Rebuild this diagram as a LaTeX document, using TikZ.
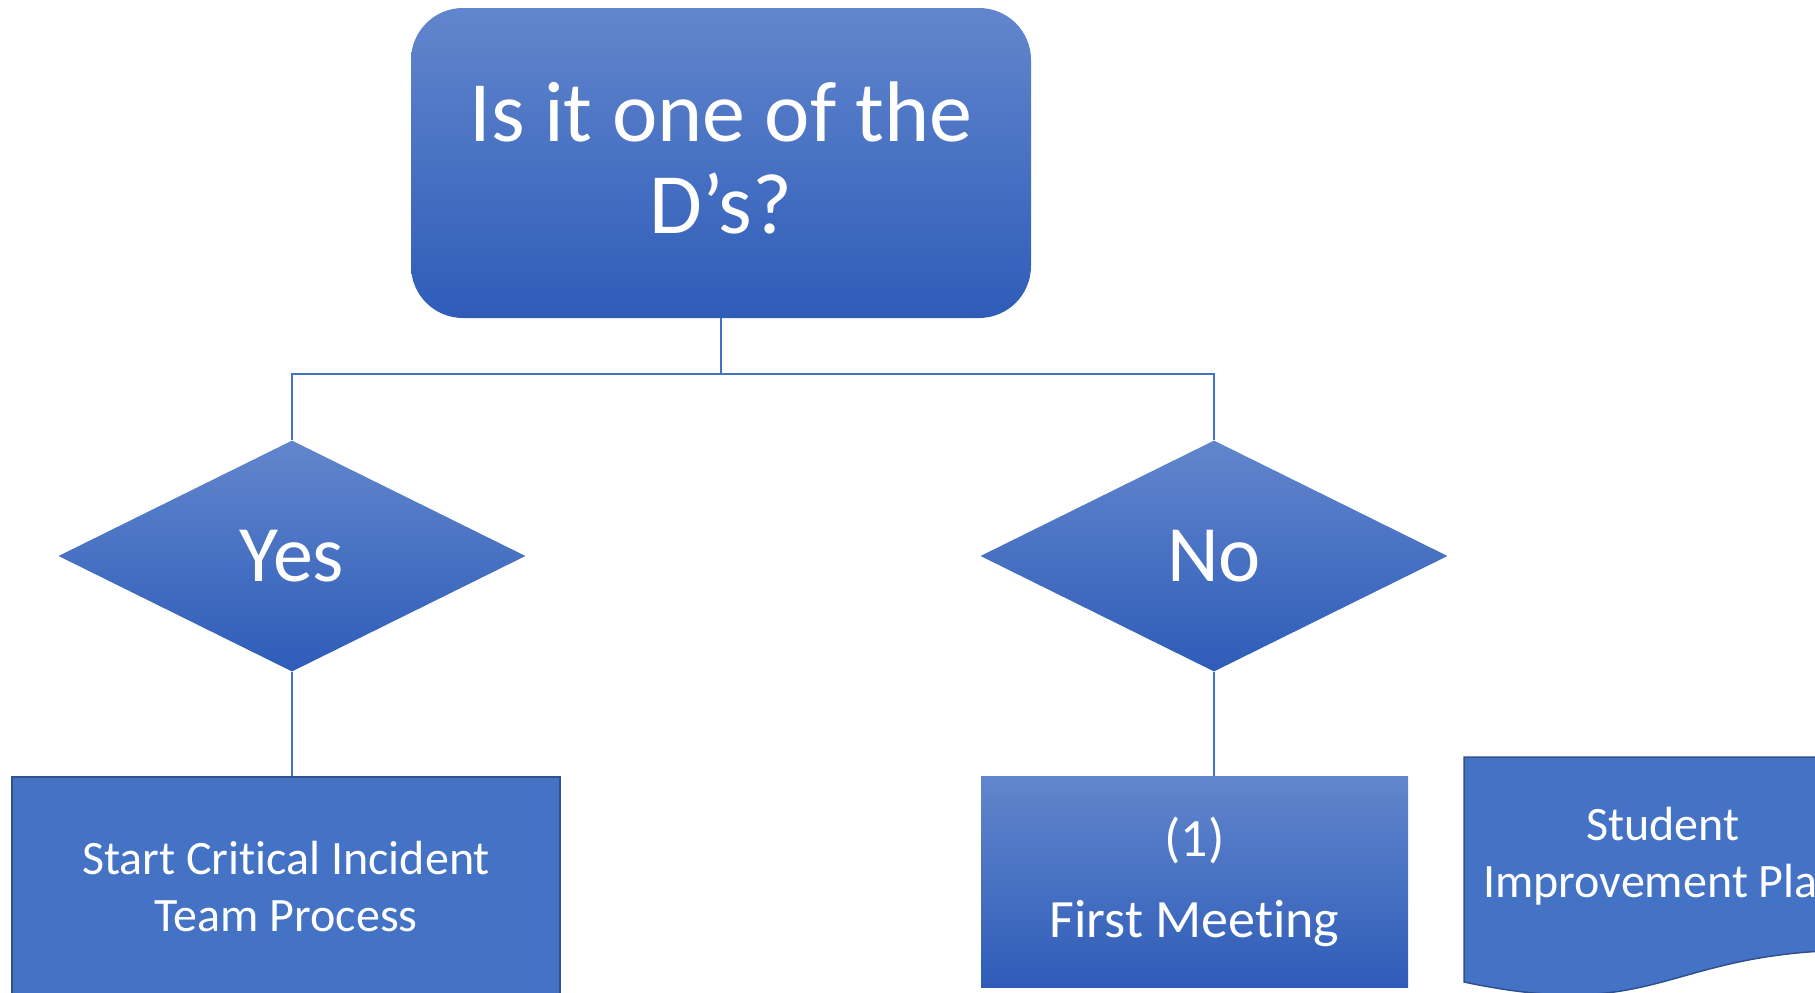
\documentclass[tikz,border=0pt]{standalone}
\usepackage{fontspec}
\setmainfont{Carlito}[Ligatures={NoCommon,NoRare}]
\usetikzlibrary{shapes.geometric, positioning}

\definecolor{accent}{HTML}{4472C4}
\definecolor{accenttop}{HTML}{6286CD}
\definecolor{accentbot}{HTML}{2E5CB8}
\definecolor{accentline}{HTML}{2F528F}

\tikzset{
    grad/.style={top color=accenttop, bottom color=accentbot, text=white, align=center, inner sep=0pt},
    solid/.style={fill=accent, draw=accentline, line width=1.5pt, text=white, align=center, inner sep=0pt},
    link/.style={draw=accent, line width=1.5pt}
}

\begin{document}
\begin{tikzpicture}[x=1pt, y=-1pt]
        \useasboundingbox (0,0) rectangle (1815,993);
        \node[grad, rounded corners=52pt, minimum width=620pt, minimum height=310pt,
              font=\fontsize{86}{92}\selectfont] (q_0) at (721,163)
                {\raisebox{-6pt}[\height][\depth]{\begin{tabular}{@{}c@{}}Is it one of the\\D’s?\end{tabular}}};
        \node[grad, diamond, aspect=2.02, minimum width=467pt, minimum height=231pt,
              font=\fontsize{80}{90}\selectfont] (d_yes) at (292,556) {Yes};
        \node[grad, diamond, aspect=2.02, minimum width=467pt, minimum height=231pt,
              font=\fontsize{80}{90}\selectfont] (d_no) at (1214,556) {No};
        \node[solid, minimum width=548pt, minimum height=220pt,
              font=\fontsize{48}{57}\selectfont] (b_cit) at (286,887) {Start Critical Incident\\Team Process};
        \node[grad, minimum width=427pt, minimum height=211pt,
              font=\fontsize{54}{81}\selectfont] (b_meet) at (1194.5,881.5) {(1)\\First Meeting};
        % document shape
        \path[fill=accent, draw=accentline, line width=1.5pt]
                (1464,757) -- (1862,757) -- (1862,950)
                .. controls (1663,950) and (1663,1024) .. (1464,982) -- cycle;
        \node[text=white, align=center, font=\fontsize{48}{57}\selectfont] (b_plan) at (1663,856)
                {Student\\Improvement Plan};
        \coordinate (split) at ([yshift=-56pt]q_0.south);
        \draw[link] (q_0.south) -- (split) -| (d_yes.north);
        \draw[link] (split) -| (d_no.north);
        \draw[link] (d_yes.south) -- (d_yes.south |- b_cit.north);
        \draw[link] (d_no.south) -- (d_no.south |- b_meet.north);
\end{tikzpicture}
\end{document}
